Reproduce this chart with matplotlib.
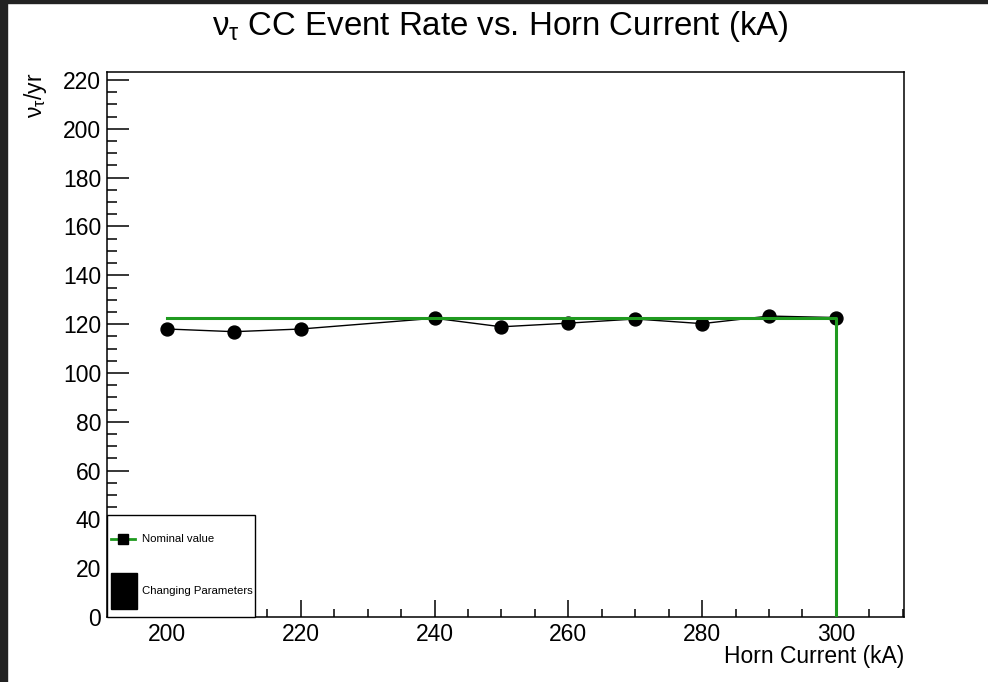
import matplotlib
matplotlib.use("Agg")
import matplotlib.pyplot as plt
from matplotlib.lines import Line2D
from matplotlib.patches import Rectangle
from matplotlib.ticker import MultipleLocator

plt.rcParams['font.family'] = ['Liberation Sans', 'DejaVu Sans']
plt.rcParams['mathtext.fontset'] = 'custom'
plt.rcParams['mathtext.rm'] = 'Liberation Sans'
plt.rcParams['mathtext.it'] = 'Liberation Sans'

# Data
horn_current = [200, 210, 220, 240, 250, 260, 270, 280, 290, 300]
event_rate = [118.0, 116.9, 118.0, 122.4, 118.9, 120.4, 122.1, 120.2, 123.3, 122.7]
nominal_x = [200, 300, 300]
nominal_y = [122.6, 122.6, 0]

title = r'$\nu_{\tau}$ CC Event Rate vs. Horn Current (kA)'
xlabel = 'Horn Current (kA)'
ylabel = r'$\nu_{\tau}$/yr'
legend_labels = ['Nominal value', 'Changing Parameters']

W, H = 988, 682
fig = plt.figure(figsize=(W / 100, H / 100), dpi=100)
fig.patch.set_facecolor('white')

# dark screenshot frame
fig.patches.append(Rectangle((0, 0), 7 / W, 1, transform=fig.transFigure,
                             color='#222222', zorder=0))
fig.patches.append(Rectangle((0, 1 - 3 / H), 1, 3 / H, transform=fig.transFigure,
                             color='#222222', zorder=0))

L, R, T, B = 107, 904, 72, 617
ax = fig.add_axes([L / W, (H - B) / H, (R - L) / W, (B - T) / H])

def fx(px):
    return (px - L) / (R - L)

def fy(py):
    return (B - py) / (B - T)

green = '#1f9a1f'
ax.plot(horn_current, event_rate, color='black', lw=1.0, marker='o',
        markersize=9.3, zorder=3)
ax.plot(nominal_x, nominal_y, color=green, lw=2.2, zorder=4)

ax.set_xlim(191, 310.2)
ax.set_ylim(0, 223.3)

ax.xaxis.set_major_locator(MultipleLocator(20))
ax.xaxis.set_minor_locator(MultipleLocator(5))
ax.yaxis.set_major_locator(MultipleLocator(20))
ax.yaxis.set_minor_locator(MultipleLocator(5))
ax.tick_params(which='both', direction='in', top=False, right=False,
               labelsize=16.5, width=1.1, color='black')
ax.tick_params(axis='y', which='major', length=15.8, pad=4.3)
ax.tick_params(axis='y', which='minor', length=7.2)
ax.tick_params(axis='x', which='major', length=12, pad=4.5)
ax.tick_params(axis='x', which='minor', length=5.8)
for s in ax.spines.values():
    s.set_linewidth(1.1)

fig.text(500 / W, 1 - 27 / H, title, ha='center', va='center', fontsize=23.8)
fig.text(904 / W, 1 - 657 / H, xlabel, ha='right', va='center', fontsize=16.5)
fig.text(35 / W, 1 - 73 / H, ylabel, ha='center', va='top', rotation=90,
         fontsize=16.5)

# legend box (ROOT style), drawn in axes fractions
ax.add_patch(Rectangle((0, 0), fx(255), fy(515), transform=ax.transAxes,
                       facecolor='white', edgecolor='black', lw=1.0,
                       zorder=6, clip_on=False))
ax.add_line(Line2D([fx(111), fx(135)], [fy(539), fy(539)],
                   transform=ax.transAxes, color=green, lw=2.0, zorder=7))
ax.add_line(Line2D([fx(122.5)], [fy(539)], transform=ax.transAxes,
                   marker='s', markersize=6.5, color='black', lw=0, zorder=8))
ax.add_patch(Rectangle((fx(111), fy(609)), fx(137) - fx(111), fy(573) - fy(609),
                       transform=ax.transAxes, facecolor='black',
                       edgecolor='black', zorder=7))
ax.text(fx(142), fy(539), legend_labels[0], transform=ax.transAxes,
        ha='left', va='center', fontsize=8.2, zorder=8)
ax.text(fx(142), fy(591), legend_labels[1], transform=ax.transAxes,
        ha='left', va='center', fontsize=8.2, zorder=8)

fig.savefig('out.png', dpi=100)
